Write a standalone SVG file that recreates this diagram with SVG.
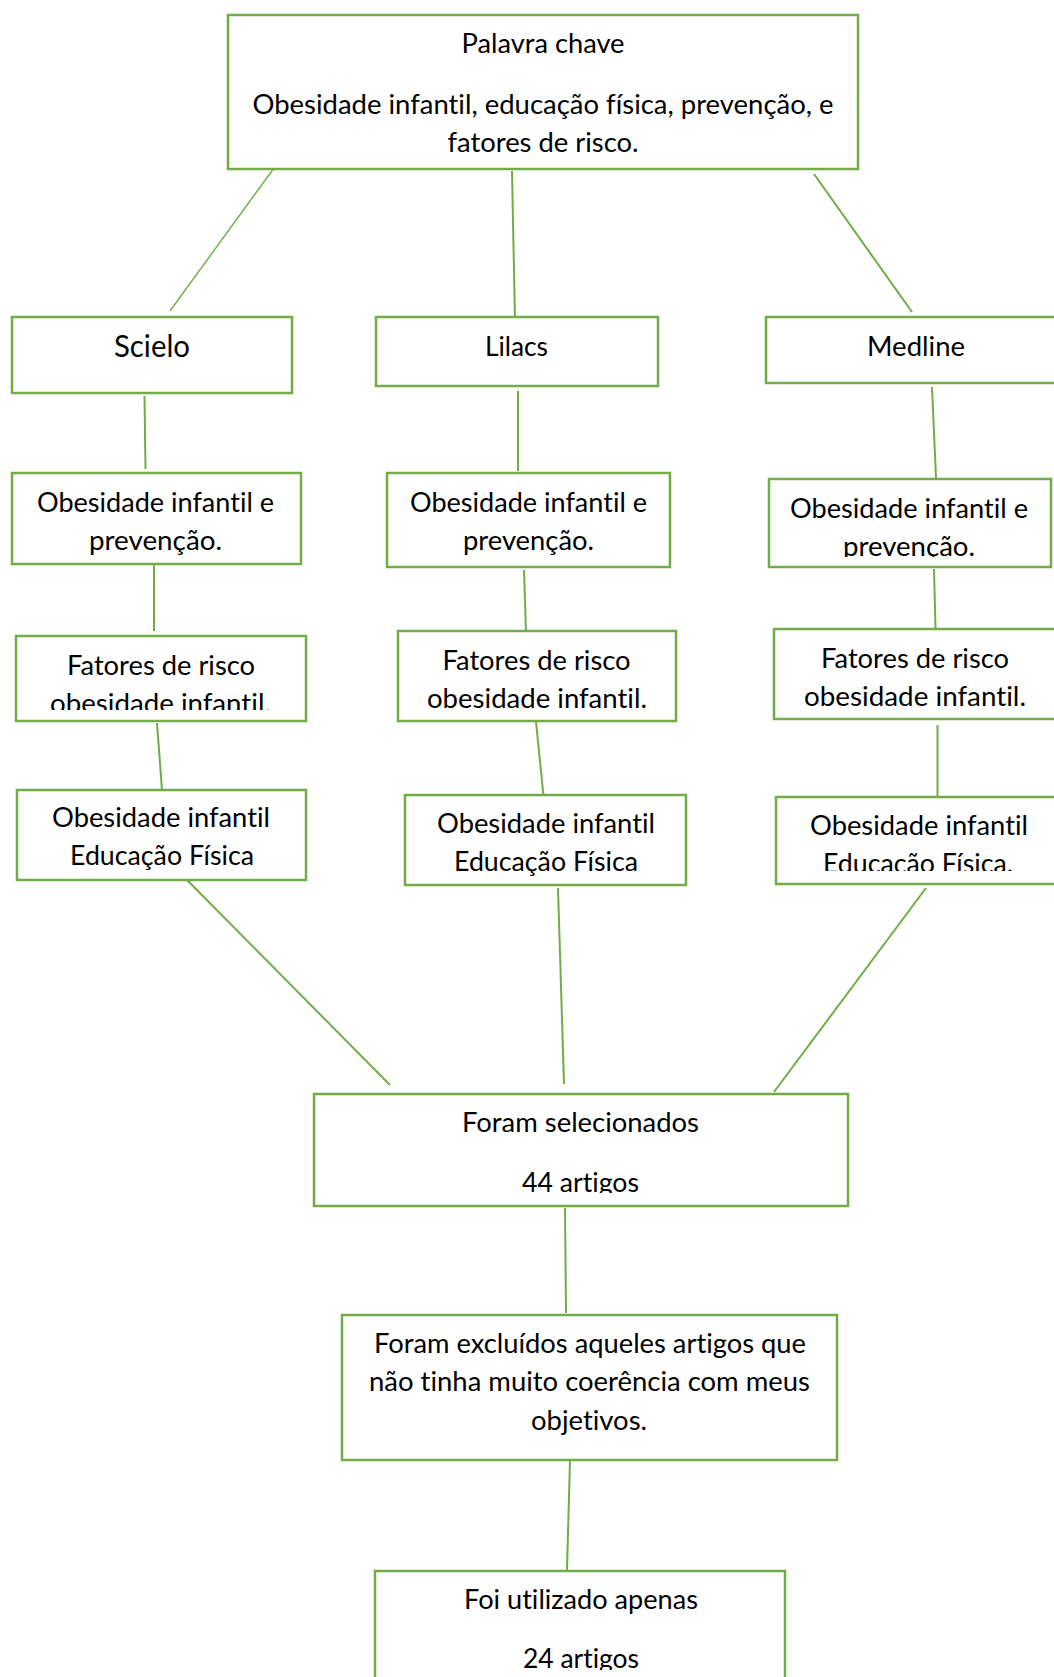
<svg xmlns="http://www.w3.org/2000/svg" width="1054" height="1677" viewBox="0 0 1054 1677">
<style>
.box{fill:#fff;stroke:#70AD47;stroke-width:2.5}
.ln{stroke:#70AD47;stroke-width:2;fill:none}
text{font-family:Lato,"Open Sans","Liberation Sans",sans-serif;font-size:27px;fill:#000;text-anchor:middle;font-variant-ligatures:none;font-feature-settings:"liga" 0}
.big{font-size:30px}
</style>
<defs>
<clipPath id="c3o"><rect x="769" y="479" width="290" height="78"/></clipPath>
<clipPath id="c1f"><rect x="16" y="636" width="290" height="74"/></clipPath>
<clipPath id="c3e"><rect x="776" y="797" width="290" height="74"/></clipPath>
<clipPath id="cfs"><rect x="314" y="1094" width="534" height="99"/></clipPath>
<clipPath id="cfu"><rect x="375" y="1571" width="410" height="99"/></clipPath>
</defs>
<rect width="1054" height="1677" fill="#fff"/>
<g id="connectors">
<line class="ln" x1="274" y1="168" x2="170" y2="311" style="stroke-width:1.4"/>
<line class="ln" x1="512" y1="171" x2="515" y2="320"/>
<line class="ln" x1="814" y1="174" x2="912" y2="312"/>
<line class="ln" x1="144.5" y1="396" x2="145.5" y2="469"/>
<line class="ln" x1="518" y1="391" x2="518" y2="471"/>
<line class="ln" x1="932" y1="387" x2="936" y2="478"/>
<line class="ln" x1="154" y1="564" x2="154" y2="631"/>
<line class="ln" x1="524" y1="570" x2="526" y2="632"/>
<line class="ln" x1="934" y1="569" x2="935.5" y2="628"/>
<line class="ln" x1="157" y1="723" x2="162" y2="790"/>
<line class="ln" x1="536" y1="722" x2="544" y2="801"/>
<line class="ln" x1="937.5" y1="725" x2="937.5" y2="798"/>
<line class="ln" x1="187" y1="880" x2="390" y2="1085"/>
<line class="ln" x1="558" y1="888" x2="564" y2="1084"/>
<line class="ln" x1="926" y1="888" x2="774" y2="1092"/>
<line class="ln" x1="565" y1="1208" x2="566" y2="1313"/>
<line class="ln" x1="570" y1="1460" x2="567" y2="1570"/>
</g>
<g id="palavra-chave">
<rect class="box" x="228" y="15" width="630" height="154"/>
<text x="543" y="53" textLength="163" lengthAdjust="spacingAndGlyphs">Palavra chave</text>
<text x="543" y="114" textLength="581" lengthAdjust="spacingAndGlyphs">Obesidade infantil, educação física, prevenção, e</text>
<text x="543" y="151.5" textLength="191" lengthAdjust="spacingAndGlyphs">fatores de risco.</text>
</g>
<g id="scielo">
<rect class="box" x="12" y="317" width="280" height="76"/>
<text class="big" x="152" y="357" textLength="76" lengthAdjust="spacingAndGlyphs">Scielo</text>
</g>
<g id="lilacs">
<rect class="box" x="376" y="317" width="282" height="69"/>
<text x="516.5" y="356" textLength="63" lengthAdjust="spacingAndGlyphs">Lilacs</text>
</g>
<g id="medline">
<rect class="box" x="766" y="317" width="300" height="66"/>
<text x="916" y="356" textLength="98" lengthAdjust="spacingAndGlyphs">Medline</text>
</g>
<g id="scielo-obes">
<rect class="box" x="12" y="473" width="289" height="91"/>
<text x="155.5" y="511.5" textLength="237" lengthAdjust="spacingAndGlyphs">Obesidade infantil e</text>
<text x="155.5" y="549.5" textLength="133" lengthAdjust="spacingAndGlyphs">prevenção.</text>
</g>
<g id="lilacs-obes">
<rect class="box" x="387" y="473" width="283" height="94"/>
<text x="528.5" y="511.5" textLength="237" lengthAdjust="spacingAndGlyphs">Obesidade infantil e</text>
<text x="528.5" y="549.5" textLength="131" lengthAdjust="spacingAndGlyphs">prevenção.</text>
</g>
<g id="medline-obes">
<rect class="box" x="769" y="479" width="282" height="88"/>
<g clip-path="url(#c3o)">
<text x="909" y="517.5" textLength="238" lengthAdjust="spacingAndGlyphs">Obesidade infantil e</text>
<text x="909" y="555.5" textLength="132" lengthAdjust="spacingAndGlyphs">prevenção.</text>
</g>
</g>
<g id="scielo-fatores">
<rect class="box" x="16" y="636" width="290" height="85"/>
<g clip-path="url(#c1f)">
<text x="161" y="674.5" textLength="188" lengthAdjust="spacingAndGlyphs">Fatores de risco</text>
<text x="160.5" y="712.5" textLength="221" lengthAdjust="spacingAndGlyphs">obesidade infantil.</text>
</g>
</g>
<g id="lilacs-fatores">
<rect class="box" x="398" y="631" width="278" height="90"/>
<text x="536.5" y="669.5" textLength="188" lengthAdjust="spacingAndGlyphs">Fatores de risco</text>
<text x="537" y="707.5" textLength="220" lengthAdjust="spacingAndGlyphs">obesidade infantil.</text>
</g>
<g id="medline-fatores">
<rect class="box" x="774" y="629" width="290" height="90"/>
<text x="915" y="668" textLength="188" lengthAdjust="spacingAndGlyphs">Fatores de risco</text>
<text x="915" y="706" textLength="222" lengthAdjust="spacingAndGlyphs">obesidade infantil.</text>
</g>
<g id="scielo-educ">
<rect class="box" x="17" y="790" width="289" height="90"/>
<text x="161" y="827" textLength="218" lengthAdjust="spacingAndGlyphs">Obesidade infantil</text>
<text x="162" y="865" textLength="184" lengthAdjust="spacingAndGlyphs">Educação Física</text>
</g>
<g id="lilacs-educ">
<rect class="box" x="405" y="795" width="281" height="90"/>
<text x="546" y="832.5" textLength="218" lengthAdjust="spacingAndGlyphs">Obesidade infantil</text>
<text x="546" y="871" textLength="184" lengthAdjust="spacingAndGlyphs">Educação Física</text>
</g>
<g id="medline-educ">
<rect class="box" x="776" y="797" width="290" height="87"/>
<g clip-path="url(#c3e)">
<text x="919" y="835" textLength="218" lengthAdjust="spacingAndGlyphs">Obesidade infantil</text>
<text x="918" y="873" textLength="190" lengthAdjust="spacingAndGlyphs">Educação Física.</text>
</g>
</g>
<g id="selecionados">
<rect class="box" x="314" y="1094" width="534" height="112"/>
<g clip-path="url(#cfs)">
<text x="580.5" y="1131.5" textLength="237" lengthAdjust="spacingAndGlyphs">Foram selecionados</text>
<text x="580.5" y="1191.5" textLength="117" lengthAdjust="spacingAndGlyphs">44 artigos</text>
</g>
</g>
<g id="excluidos">
<rect class="box" x="342" y="1315" width="495" height="145"/>
<text x="590" y="1352.5" textLength="432" lengthAdjust="spacingAndGlyphs">Foram excluídos aqueles artigos que</text>
<text x="589.5" y="1391" textLength="441" lengthAdjust="spacingAndGlyphs">não tinha muito coerência com meus</text>
<text x="589" y="1429.5" textLength="116" lengthAdjust="spacingAndGlyphs">objetivos.</text>
</g>
<g id="utilizado">
<rect class="box" x="375" y="1571" width="410" height="120"/>
<g clip-path="url(#cfu)">
<text x="581" y="1609" textLength="234" lengthAdjust="spacingAndGlyphs">Foi utilizado apenas</text>
<text x="581" y="1668" textLength="116" lengthAdjust="spacingAndGlyphs">24 artigos</text>
</g>
</g>
</svg>
